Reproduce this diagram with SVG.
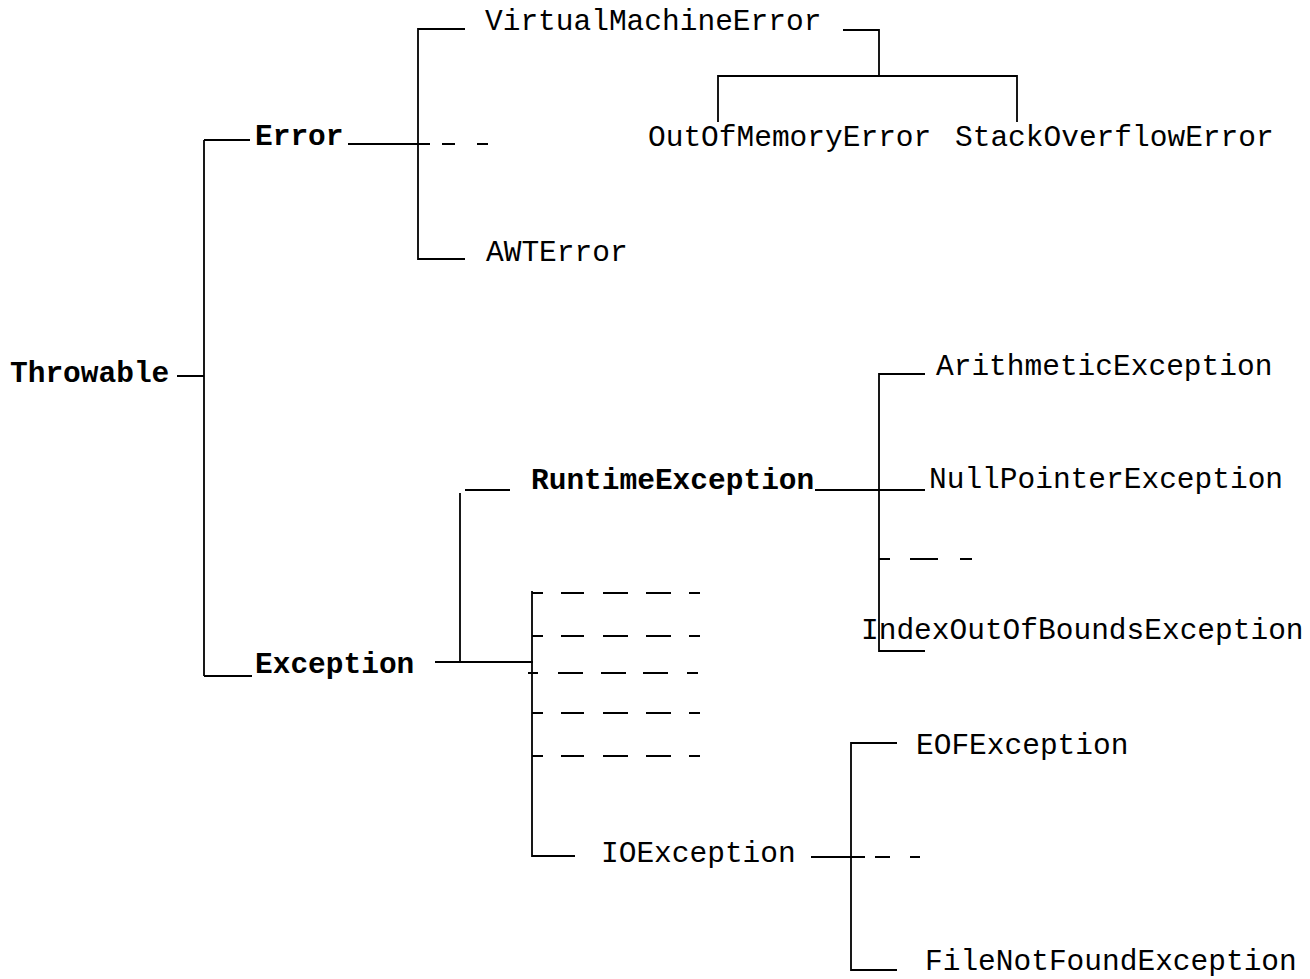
<svg xmlns="http://www.w3.org/2000/svg" width="1310" height="979" viewBox="0 0 1310 979">
<style>
.t{font-family:"Liberation Mono","Courier New",monospace;font-size:29.5px;fill:#000}
.b{font-weight:bold}
.c path{fill:none;stroke:#000;stroke-width:1.8}
</style>
<rect width="1310" height="979" fill="#fff"/>
<g id="connectors" class="c">
<path d="M177 376H204M204 140V676M204 140H250M204 676H252"/>
<path d="M348 144H430M442 144H455M477 144H488"/>
<path d="M465 29H418V259H465"/>
<path d="M843 30H879V76M718 122V76H1017V122"/>
<path d="M435 662H533M460 493V662M465 490H510"/>
<path d="M815 490H925M925 374H879V651H925M879 559H890M910 559H938M960 559H972"/>
<path d="M532 591V856H575"/>
<path d="M532 593H543M561 593H584M603 593H628M646 593H671M689 593H700"/>
<path d="M532 636H543M561 636H584M603 636H628M646 636H671M689 636H700"/>
<path d="M528 673H538M558 673H583M601 673H626M643 673H668M687 673H698"/>
<path d="M532 713H543M561 713H584M603 713H628M646 713H671M689 713H700"/>
<path d="M532 756H543M561 756H584M603 756H628M646 756H671M689 756H700"/>
<path d="M811 857H865M875 857H890M910 857H920M897 743H851V970H897"/>
</g>
<g id="throwable"><text class="t b" x="10" y="382">Throwable</text></g>
<g id="error"><text class="t b" x="255" y="145">Error</text></g>
<g id="exception"><text class="t b" x="255" y="673">Exception</text></g>
<g id="virtualmachineerror"><text class="t" x="485" y="30">VirtualMachineError</text></g>
<g id="awterror"><text class="t" x="486" y="261">AWTError</text></g>
<g id="outofmemoryerror"><text class="t" x="648" y="146">OutOfMemoryError</text></g>
<g id="stackoverflowerror"><text class="t" x="955" y="146">StackOverflowError</text></g>
<g id="arithmeticexception"><text class="t" x="936" y="375">ArithmeticException</text></g>
<g id="runtimeexception"><text class="t b" x="531" y="489">RuntimeException</text></g>
<g id="nullpointerexception"><text class="t" x="929" y="488">NullPointerException</text></g>
<g id="indexoutofboundsexception"><text class="t" x="861" y="639">IndexOutOfBoundsException</text></g>
<g id="ioexception"><text class="t" x="601" y="862">IOException</text></g>
<g id="eofexception"><text class="t" x="916" y="754">EOFException</text></g>
<g id="filenotfoundexception"><text class="t" x="925" y="970">FileNotFoundException</text></g>
</svg>
